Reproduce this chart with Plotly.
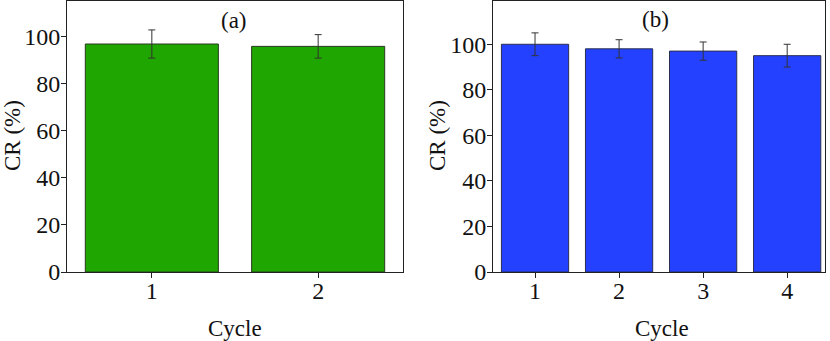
import plotly.graph_objects as go

cycles_a = [1, 2]
cr_a = [97, 96]
err_a = [6, 5]

cycles_b = [1, 2, 3, 4]
cr_b = [100, 98, 97, 95]
err_b = [5, 4, 4, 5]

tick_vals_y = [0, 20, 40, 60, 80, 100]

FONT = "Liberation Serif"
FS = 23
TFS = 24
GREEN = "#1fa600"
BLUE = "#2341ff"

fig = go.Figure()
fig.add_trace(go.Bar(
    x=cycles_a, y=cr_a, width=0.8,
    marker=dict(color=GREEN, line=dict(color="#2a3a20", width=1)),
    error_y=dict(type="data", array=err_a, color="#333333", thickness=1, width=3.5),
    xaxis="x", yaxis="y", showlegend=False))
fig.add_trace(go.Bar(
    x=cycles_b, y=cr_b, width=0.8,
    marker=dict(color=BLUE, line=dict(color="#2a2f50", width=1)),
    error_y=dict(type="data", array=err_b, color="#333333", thickness=1, width=3.5),
    xaxis="x2", yaxis="y2", showlegend=False))

H = 341
W = 830
ytop = 1 - 1 / H
ybot = (H - 272) / H

axis_common = dict(showline=True, linecolor="#222222", linewidth=1, mirror=True,
                   ticks="outside", ticklen=5, tickwidth=1, tickcolor="#222222",
                   showgrid=False, zeroline=False, automargin=False,
                   tickfont=dict(family=FONT, size=TFS, color="#111111"))

fig.update_layout(
    width=W, height=H,
    margin=dict(l=0, r=0, t=0, b=0, pad=0, autoexpand=False),
    paper_bgcolor="white", plot_bgcolor="white",
    xaxis=dict(domain=[67 / W, 403 / W], range=[0.49, 2.51], tickvals=cycles_a,
               anchor="y", ticklabelstandoff=-8, **axis_common),
    yaxis=dict(domain=[ybot, ytop], range=[0, 115.3], tickvals=tick_vals_y,
               anchor="x", ticklabelstandoff=-4, **axis_common),
    xaxis2=dict(domain=[493 / W, 825 / W], range=[0.5, 4.45], tickvals=cycles_b,
                anchor="y2", ticklabelstandoff=-8, **axis_common),
    yaxis2=dict(domain=[ybot, ytop], range=[0, 119], tickvals=tick_vals_y,
                anchor="x2", ticklabelstandoff=-4, **axis_common),
    font=dict(family=FONT, size=FS, color="#111111"),
)

ann = dict(xref="paper", yref="paper", showarrow=False, xanchor="center", yanchor="middle",
           font=dict(family=FONT, size=FS, color="#111111"))
fig.add_annotation(text="(a)", x=234 / W, y=1 - 21 / H, **ann)
fig.add_annotation(text="(b)", x=655 / W, y=1 - 20 / H, **ann)
fig.add_annotation(text="Cycle", x=235 / W, y=1 - 328 / H, **ann)
fig.add_annotation(text="Cycle", x=662 / W, y=1 - 328 / H, **ann)
fig.add_annotation(text="CR (%)", x=12 / W, y=1 - 136 / H, textangle=-90, **ann)
fig.add_annotation(text="CR (%)", x=437 / W, y=1 - 136 / H, textangle=-90, **ann)

fig.write_html("out.html", config={"displayModeBar": False},
               post_script="document.body.style.margin='0';document.body.style.overflow='hidden';")
